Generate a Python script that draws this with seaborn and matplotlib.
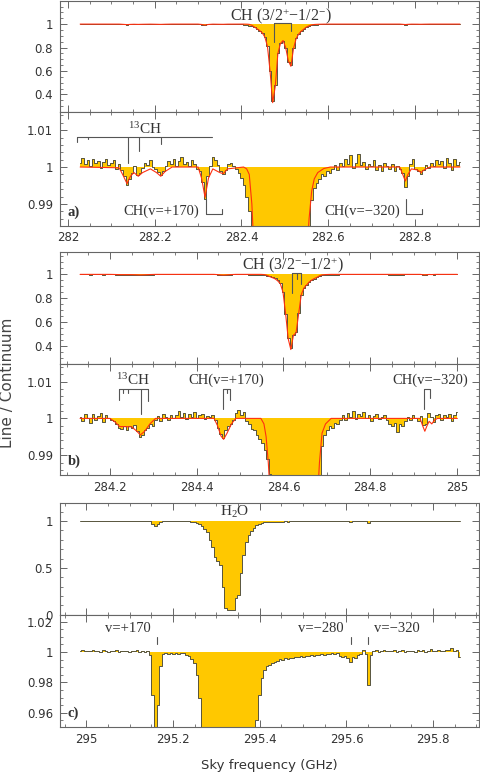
import numpy as np
import matplotlib
matplotlib.use("Agg")
import matplotlib.pyplot as plt
from matplotlib.ticker import MultipleLocator, FuncFormatter
import seaborn as sns

# spectra: one value per 6 MHz channel, same data in the top (full) and bottom (zoomed) panels
CHANNEL = 0.006

a_start = 282.028
a_flux = [
    1.0012, 1.0025, 1.0008, 1.0018, 1.0003, 1.0021, 1.0010, 1.0016, 0.9998, 1.0014,
    1.0022, 1.0006, 1.0011, 1.0019, 0.9996, 1.0008, 0.9992,
    0.9975, 0.9950, 0.9968, 0.9985, 1.0003, 0.9978, 0.9984,
    0.9997, 1.0012, 1.0006, 1.0018, 1.0001, 0.9994,
    0.9986, 0.9979, 0.9990,
    1.0004, 1.0015, 1.0008, 1.0021, 1.0003, 1.0017, 1.0026, 1.0009, 1.0014, 1.0002,
    1.0018, 1.0007, 0.9996,
    0.9990, 0.9960, 0.9913, 0.9975,
    1.0004, 1.0027, 1.0018, 1.0006, 0.9988, 0.9980, 0.9992, 1.0008, 1.0011,
    1.0003, 0.9996, 0.9985, 0.9970, 0.9950, 0.9920, 0.9880, 0.9830, 0.9750, 0.9600,
    0.9400, 0.9250, 0.8900, 0.8100, 0.6000, 0.3400, 0.4800, 0.7500, 0.8350, 0.8600,
    0.8000, 0.6800, 0.6500, 0.8000, 0.8800, 0.9150, 0.9400, 0.9580, 0.9720, 0.9840,
    0.9910, 0.9942, 0.9956, 0.9968, 0.9981, 0.9976, 0.9989, 0.9985, 0.9995,
    1.0006, 0.9993, 1.0012, 1.0004, 1.0021, 1.0008, 1.0032, 0.9998, 1.0010, 1.0035,
    1.0005, 1.0014, 0.9996, 1.0009, 1.0003, 1.0018, 0.9992, 1.0006, 0.9988, 1.0011,
    1.0002, 0.9994, 1.0007, 0.9990, 1.0004, 0.9996,
    0.9985, 0.9947, 0.9976,
    1.0008, 1.0022, 0.9995, 0.9988, 0.9980, 0.9993, 1.0006, 0.9997, 1.0012, 1.0004,
    1.0019, 1.0009, 1.0015, 0.9998, 1.0024, 1.0010, 0.9991, 1.0021, 1.0006,
    1.0013,
]
a_model_freq = [
    282.028, 282.118, 282.128, 282.136, 282.144, 282.152, 282.162, 282.172, 282.190, 282.204,
    282.214, 282.224, 282.240, 282.300, 282.308, 282.316, 282.324, 282.334, 282.350, 282.358,
    282.368, 282.405, 282.412, 282.418, 282.424, 282.430, 282.436, 282.442, 282.448, 282.454,
    282.460, 282.466, 282.472, 282.478, 282.484, 282.490, 282.496, 282.502, 282.508, 282.514,
    282.520, 282.526, 282.532, 282.538, 282.544, 282.550, 282.556, 282.562, 282.568, 282.576,
    282.590, 282.605, 282.765, 282.772, 282.778, 282.784, 282.792, 282.806, 282.814, 282.822,
    282.835, 282.904,
]
a_model_flux = [
    1.0, 0.9998, 0.9975, 0.9955, 0.9975, 0.9985, 0.9975, 0.9985, 0.9995, 0.9985,
    0.9975, 0.9988, 1.0, 1.0, 0.997, 0.9918, 0.997, 0.9995, 0.9985, 0.9982,
    0.9995, 1.0, 0.9995, 0.998, 0.990, 0.975, 0.96, 0.945, 0.925, 0.89,
    0.81, 0.60, 0.33, 0.47, 0.75, 0.835, 0.86, 0.80, 0.69, 0.64,
    0.79, 0.875, 0.915, 0.94, 0.958, 0.975, 0.986, 0.9935, 0.9968, 0.9985,
    0.9996, 1.0, 1.0, 0.998, 0.9962, 0.998, 0.9995, 0.9992, 0.9985, 0.9993,
    1.0, 1.0,
]

b_start = 284.131
b_flux = [
    1.0004, 0.9992, 1.0011, 1.0002, 0.9988, 1.0013, 0.9995, 1.0007, 1.0015, 0.9990,
    1.0009, 1.0001, 0.9996,
    0.9992, 0.9985, 0.9975, 0.9972, 0.9978, 0.9969, 0.9980, 0.9974, 0.9983, 0.9965,
    0.9950, 0.9956, 0.9968, 0.9975, 0.9986, 0.9979, 0.9995,
    1.0006, 0.9994, 1.0012, 1.0003, 0.9997, 1.0010, 1.0001, 1.0008, 1.0020, 1.0005,
    1.0014, 0.9998, 1.0011, 1.0004, 1.0017, 1.0002, 1.0009, 1.0013, 0.9999, 1.0006,
    1.0003, 1.0008, 0.9996,
    0.9975, 0.9958, 0.9948, 0.9968, 0.9978, 0.9985, 0.9995,
    1.0015, 1.0022, 1.0008, 1.0018,
    0.9992, 0.9985, 0.9972, 0.9968, 0.9955, 0.9945, 0.9932, 0.9915, 0.9890, 0.9850,
    0.9790, 0.9720, 0.9550, 0.9250, 0.8500, 0.6700, 0.4700, 0.3800, 0.4900, 0.5200,
    0.6800, 0.8300, 0.8850, 0.9100, 0.9350, 0.9520, 0.9650, 0.9750, 0.9840, 0.9925,
    0.9955, 0.9968, 0.9978, 0.9975, 0.9988, 0.9985, 0.9995,
    1.0008, 0.9996, 1.0015, 1.0004, 1.0021, 0.9999, 1.0012, 1.0006, 1.0018, 1.0002,
    1.0010, 0.9994, 1.0007, 1.0013, 0.9998, 1.0005, 1.0009, 0.9996,
    0.9985, 0.9980, 0.9988, 0.9962, 0.9984, 0.9979, 0.9992,
    1.0004, 0.9995, 1.0009, 1.0001, 0.9993, 1.0006,
    0.9982, 0.9986, 1.0016,
    1.0004, 0.9990, 1.0008, 1.0011, 0.9997, 1.0009, 1.0003, 1.0012, 0.9994, 1.0010,
    1.0018,
]
b_model_freq = [
    284.131, 284.200, 284.212, 284.222, 284.250, 284.262, 284.270, 284.280, 284.292, 284.305,
    284.440, 284.448, 284.456, 284.462, 284.470, 284.480, 284.490, 284.548, 284.555, 284.560,
    284.565, 284.569, 284.575, 284.581, 284.587, 284.593, 284.599, 284.605, 284.611, 284.617,
    284.623, 284.629, 284.635, 284.641, 284.647, 284.653, 284.659, 284.665, 284.671, 284.677,
    284.683, 284.689, 284.697, 284.710, 284.915, 284.921, 284.926, 284.931, 284.936, 284.942,
    284.948, 284.955, 285.001,
]
b_model_flux = [
    1.0, 1.0, 0.999, 0.9978, 0.9977, 0.9965, 0.9955, 0.9965, 0.9985, 1.0,
    1.0, 0.998, 0.9952, 0.9943, 0.996, 0.9985, 1.0, 1.0, 0.9985, 0.995,
    0.988, 0.980, 0.972, 0.962, 0.945, 0.92, 0.85, 0.67, 0.46, 0.37,
    0.49, 0.51, 0.67, 0.83, 0.885, 0.91, 0.935, 0.952, 0.965, 0.975,
    0.988, 0.996, 0.9985, 1.0, 1.0, 0.998, 0.9965, 0.998, 0.9992, 0.9985,
    0.9995, 1.0, 1.0,
]

c_start = 294.985
c_flux = [
    1.0008, 1.0012, 1.0005, 1.0010, 1.0006, 1.0013, 1.0004, 1.0009, 1.0002, 1.0011,
    1.0007, 1.0003, 1.0010, 1.0005, 1.0012, 1.0001, 1.0008, 1.0006, 1.0010, 0.9998,
    1.0009, 1.0004, 1.0013, 1.0002, 1.0007, 1.0003, 1.0006,
    0.9978, 0.9720, 0.9440, 0.9650, 0.9910, 0.9985,
    0.9992, 0.9986, 0.9995, 0.9988, 0.9993, 0.9985, 0.9996,
    0.9995, 0.9982, 0.9975, 0.9955, 0.9930, 0.9850, 0.9700, 0.9450, 0.9150, 0.8800,
    0.8000, 0.7200, 0.6200, 0.5750, 0.5300, 0.3000, 0.0700, 0.0450, 0.0450, 0.0500,
    0.1800, 0.2100, 0.4500, 0.6400, 0.7800, 0.8500, 0.8900, 0.9300, 0.9550, 0.9720,
    0.9830, 0.9880, 0.9905, 0.9915, 0.9930, 0.9935, 0.9940, 0.9952, 0.9948, 0.9958,
    0.9955, 0.9962, 0.9958, 0.9968, 0.9965, 0.9972, 0.9968, 0.9976, 0.9972, 0.9980,
    0.9976, 0.9983, 0.9980, 0.9986, 0.9983, 0.9989, 0.9986, 0.9992, 0.9990, 0.9995,
    0.9975, 0.9968, 0.9975, 0.9960, 0.9935, 0.9970, 0.9962, 0.9980, 0.9985, 1.0015,
    0.9985, 0.9785, 0.9978,
    1.0005, 1.0012, 1.0003, 1.0009, 1.0015, 1.0004, 1.0010, 1.0006, 1.0013, 1.0002,
    1.0008, 1.0011, 0.9999, 1.0007, 1.0004, 1.0009, 1.0002, 1.0012, 1.0006, 1.0014,
    1.0003, 1.0010, 1.0017, 1.0008, 1.0005, 1.0012, 1.0009, 1.0004, 1.0015, 1.0011,
    1.0028, 1.0006, 1.0013, 0.9970,
]

GOLD = "#ffc800"
DARK = "#57543c"
RED = "#ff3010"
FRAME = "#666666"
INK = "#333333"
SERIF = "Liberation Serif"


def channels(start, flux):
    return start + CHANNEL * np.arange(len(flux))


def draw_spectrum(ax, freq, flux, model_freq=None, model_flux=None):
    ax.fill_between(freq, flux, 1.0, step="mid", color=GOLD, lw=0)
    sns.lineplot(x=freq, y=flux, ax=ax, color=DARK, lw=0.7,
                 drawstyle="steps-mid", estimator=None, sort=False)
    if model_freq is not None:
        sns.lineplot(x=model_freq, y=model_flux, ax=ax, color=RED, lw=0.8,
                     estimator=None, sort=False)


def style_axes(ax, xlim, ylim, ymajor, yminor, show_x):
    ax.set_xlim(xlim)
    ax.set_ylim(ylim)
    ax.xaxis.set_major_locator(MultipleLocator(0.2))
    ax.xaxis.set_minor_locator(MultipleLocator(0.05))
    ax.yaxis.set_major_locator(MultipleLocator(ymajor))
    ax.yaxis.set_minor_locator(MultipleLocator(yminor))
    fmt = FuncFormatter(lambda v, p: "{:g}".format(round(v, 4)))
    ax.xaxis.set_major_formatter(fmt)
    ax.yaxis.set_major_formatter(fmt)
    ax.tick_params(which="both", direction="in", top=True, right=True,
                   color=FRAME, labelcolor=INK, labelsize=8.5)
    ax.tick_params(which="major", length=4.8, width=0.7)
    ax.tick_params(which="minor", length=2.4, width=0.6)
    ax.tick_params(axis="x", pad=4)
    ax.tick_params(axis="y", pad=5)
    if not show_x:
        ax.tick_params(labelbottom=False)
    for s in ax.spines.values():
        s.set_color(FRAME)
        s.set_linewidth(0.8)
    ax.set_xlabel("")
    ax.set_ylabel("")


def bracket(ax, x0, x1, ybar, ticks):
    ax.plot([x0, x1], [ybar, ybar], color="#555555", lw=0.8)
    for x, ylow in ticks:
        ax.plot([x, x], [ybar, ylow], color="#555555", lw=0.8)


def note(ax, x, y, s, size=10.5):
    ax.text(x, y, s, ha="center", va="center", family=SERIF, fontsize=size,
            color=INK)


sns.set_theme(style="ticks")
plt.rcParams["font.family"] = ["DejaVu Sans"]
plt.rcParams["mathtext.fontset"] = "custom"
plt.rcParams["mathtext.rm"] = SERIF
plt.rcParams["mathtext.it"] = SERIF + ":italic"

fig = plt.figure(figsize=(4.8, 7.74), dpi=100)
L, W = 0.125, 0.873
ax_a1 = fig.add_axes([L, 0.8557, W, 0.1430])
ax_a2 = fig.add_axes([L, 0.7084, W, 0.1473])
ax_b1 = fig.add_axes([L, 0.5297, W, 0.1451])
ax_b2 = fig.add_axes([L, 0.3863, W, 0.1434])
ax_c1 = fig.add_axes([L, 0.2054, W, 0.1443])
ax_c2 = fig.add_axes([L, 0.0607, W, 0.1447])

a_freq = channels(a_start, a_flux)
b_freq = channels(b_start, b_flux)
c_freq = channels(c_start, c_flux)

xa = (281.9815, 282.948)
xb = (284.0847, 285.051)
xc = (294.939, 295.906)

# panel a
draw_spectrum(ax_a1, a_freq, a_flux, a_model_freq, a_model_flux)
style_axes(ax_a1, xa, (0.253, 1.197), 0.2, 0.05, False)
draw_spectrum(ax_a2, a_freq, a_flux, a_model_freq, a_model_flux)
style_axes(ax_a2, xa, (0.9841, 1.015), 0.01, 0.002, True)

note(ax_a1, 282.49, 1.072, r"CH (3/2$^{+}$$-$1/2$^{-}$)", size=11.5)
bracket(ax_a1, 282.476, 282.515, 1.01, [(282.476, 0.845), (282.515, 0.943)])

bracket(ax_a2, 282.020, 282.331, 1.0082,
        [(282.020, 1.0069), (282.046, 1.0077), (282.139, 1.0012),
         (282.164, 1.0044), (282.214, 1.0062)])
note(ax_a2, 282.177, 1.0104, r"$^{13}$CH", size=11)
note(ax_a2, 282.216, 0.9881, "CH(v=+170)")
ax_a2.plot([282.318, 282.318, 282.355, 282.355], [0.9914, 0.9874, 0.9874, 0.9887],
           color="#555555", lw=0.8)
note(ax_a2, 282.679, 0.9881, "CH(v=\u2212320)")
ax_a2.plot([282.780, 282.780, 282.816, 282.816], [0.9914, 0.9874, 0.9874, 0.9887],
           color="#555555", lw=0.8)
ax_a2.text(0.018, 0.12, "a)", transform=ax_a2.transAxes, family=SERIF,
           fontweight="bold", fontsize=10.5, color=INK, va="center")

# panel b
draw_spectrum(ax_b1, b_freq, b_flux, b_model_freq, b_model_flux)
style_axes(ax_b1, xb, (0.249, 1.19), 0.2, 0.05, False)
draw_spectrum(ax_b2, b_freq, b_flux, b_model_freq, b_model_flux)
style_axes(ax_b2, xb, (0.9846, 1.0148), 0.01, 0.002, True)

note(ax_b1, 284.622, 1.077, r"CH (3/2$^{-}$$-$1/2$^{+}$)", size=11.5)
bracket(ax_b1, 284.620, 284.640, 1.01,
        [(284.620, 0.84), (284.632, 0.96), (284.640, 0.92)])

bracket(ax_b2, 284.221, 284.288, 1.0079,
        [(284.221, 1.0050), (284.231, 1.0070), (284.242, 1.0070),
         (284.271, 1.0013), (284.288, 1.0046)])
note(ax_b2, 284.254, 1.0104, r"$^{13}$CH", size=11)
bracket(ax_b2, 284.460, 284.477, 1.0079,
        [(284.460, 1.0025), (284.469, 1.0068), (284.477, 1.0050)])
note(ax_b2, 284.469, 1.0105, "CH(v=+170)")
bracket(ax_b2, 284.924, 284.938, 1.0079, [(284.924, 1.0025), (284.938, 1.0055)])
note(ax_b2, 284.938, 1.0105, "CH(v=\u2212320)")
ax_b2.text(0.018, 0.12, "b)", transform=ax_b2.transAxes, family=SERIF,
           fontweight="bold", fontsize=10.5, color=INK, va="center")

# panel c
draw_spectrum(ax_c1, c_freq, c_flux)
style_axes(ax_c1, xc, (-0.004, 1.19), 0.5, 0.1, False)
draw_spectrum(ax_c2, c_freq, c_flux)
style_axes(ax_c2, xc, (0.9506, 1.0244), 0.02, 0.005, True)

note(ax_c1, 295.343, 1.093, r"H$_2$O", size=11)
for x, label, xt in [(295.163, "v=+170", 295.095), (295.610, "v=\u2212280", 295.541),
                     (295.649, "v=\u2212320", 295.717)]:
    ax_c2.plot([x, x], [1.0096, 1.0053], color="#555555", lw=0.8)
    note(ax_c2, xt, 1.0152, label)
ax_c2.text(0.018, 0.12, "c)", transform=ax_c2.transAxes, family=SERIF,
           fontweight="bold", fontsize=10.5, color=INK, va="center")

fig.text(0.5615, 0.003, "Sky frequency (GHz)", ha="center", va="bottom",
         fontsize=9.5, color=INK)
fig.text(0.016, 0.505, "Line / Continuum", rotation=90, ha="center", va="center",
         fontsize=11, color="#444444")

fig.savefig("out.png", dpi=100)
